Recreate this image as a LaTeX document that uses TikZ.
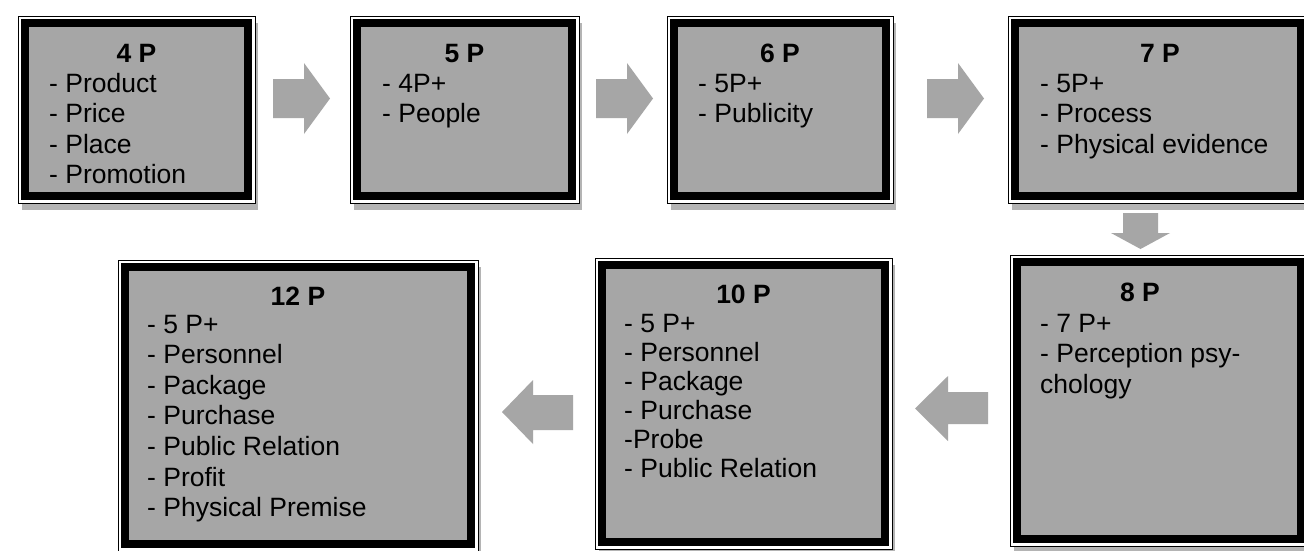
\documentclass[tikz,border=0pt]{standalone}
\usepackage{fontspec}
\setmainfont{Liberation Sans}
\definecolor{boxgray}{HTML}{A6A6A6}
\definecolor{shadowc}{HTML}{B4B4B4}
\definecolor{arrowgray}{HTML}{A6A6A6}
\tikzset{
  outerbox/.style={draw=black, line width=1pt, fill=white, inner sep=0pt, outer sep=0pt, anchor=north west},
  innerbox/.style={draw=black, line width=8pt, fill=boxgray},
  titletext/.style={anchor=base, inner sep=0pt, font=\fontsize{26.5}{31}\selectfont\bfseries},
  listtext/.style={anchor=base west, inner sep=0pt, font=\fontsize{26.5}{30.5}\selectfont},
  blockarrow/.style={fill=arrowgray, draw=none},
}
% name, x1, y1, x2, y2
\newcommand\pbox[5]{%
  \fill[shadowc] (#2+4,#3+7) rectangle (#4+3,#5+7);
  \node[outerbox, minimum width=#4-#2, minimum height=#5-#3] (#1) at (#2,#3) {};
  \draw[innerbox] ([shift={(7,7)}]#1.north west) rectangle ([shift={(-7,-7)}]#1.south east);
}
\begin{document}
\begin{tikzpicture}[x=1pt,y=-1pt]
\useasboundingbox (0,0) rectangle (1304,550);
\clip (0,0) rectangle (1304,550);
\fill[white] (0,0) rectangle (1304,550);

% boxes
\pbox{b4}{18}{16}{255}{203}
\pbox{b5}{350}{16}{579}{203}
\pbox{b6}{667}{16}{893}{203}
\pbox{b7}{1008}{16}{1308}{203}
\pbox{b8}{1010}{255}{1308}{546}
\pbox{b10}{595}{258}{892}{549}
\pbox{b12}{118}{260}{478}{551}

% titles
\node[titletext] (t4) at ([yshift=-46]b4.north) {4 P};
\node[titletext] (t5) at ([yshift=-46]b5.north) {5 P};
\node[titletext] (t6) at ([yshift=-46]b6.north) {6 P};
\node[titletext] (t7) at ([yshift=-46]b7.north -| 1160,0) {7 P};
\node[titletext] (t8) at ([yshift=-46]b8.north -| 1140,0) {8 P};
\node[titletext] (t10) at ([yshift=-45]b10.north) {10 P};
\node[titletext] (t12) at ([yshift=-45]b12.north) {12 P};

% lists
\node[listtext] (l4) at (49,92) {\vtop{\hbox{- Product}\hbox{- Price}\hbox{- Place}\hbox{- Promotion}}};
\node[listtext] (l5) at (382,92) {\vtop{\hbox{- 4P+}\hbox{- People}}};
\node[listtext] (l6) at (698,92) {\vtop{\hbox{- 5P+}\hbox{- Publicity}}};
\node[listtext] (l7) at (1040,92) {\vtop{\hbox{- 5P+}\hbox{- Process}\hbox{- Physical evidence}}};
\node[listtext] (l8) at (1040,332) {\vtop{\hbox{- 7 P+}\hbox{- Perception psy-}\hbox{chology}}};
\node[listtext, font=\fontsize{26.5}{29}\selectfont] (l10) at (624,332) {\vtop{\hbox{- 5 P+}\hbox{- Personnel}\hbox{- Package}\hbox{- Purchase}\hbox{-Probe}\hbox{- Public Relation}}};
\node[listtext, font=\fontsize{26.5}{30.6}\selectfont] (l12) at (147,333) {\vtop{\hbox{- 5 P+}\hbox{- Personnel}\hbox{- Package}\hbox{- Purchase}\hbox{- Public Relation}\hbox{- Profit}\hbox{- Physical Premise}}};

% block arrows
\fill[blockarrow] (273,79) -- (304,79) -- (304,63) -- (330,98.5) -- (304,134) -- (304,118) -- (273,118) -- cycle;
\fill[blockarrow] (596,79) -- (627,79) -- (627,63) -- (653,98.5) -- (627,134) -- (627,118) -- (596,118) -- cycle;
\fill[blockarrow] (927,79) -- (958,79) -- (958,63) -- (984,98.5) -- (958,134) -- (958,118) -- (927,118) -- cycle;
\fill[blockarrow] (1123,213) -- (1158,213) -- (1158,233) -- (1170,233) -- (1140.5,249) -- (1111,233) -- (1123,233) -- cycle;
\fill[blockarrow] (988,392) -- (948,392) -- (948,376) -- (915,408.5) -- (948,441) -- (948,424) -- (988,424) -- cycle;
\fill[blockarrow] (573,395) -- (533,395) -- (533,380) -- (502,412) -- (533,444) -- (533,430) -- (573,430) -- cycle;
\end{tikzpicture}
\end{document}
